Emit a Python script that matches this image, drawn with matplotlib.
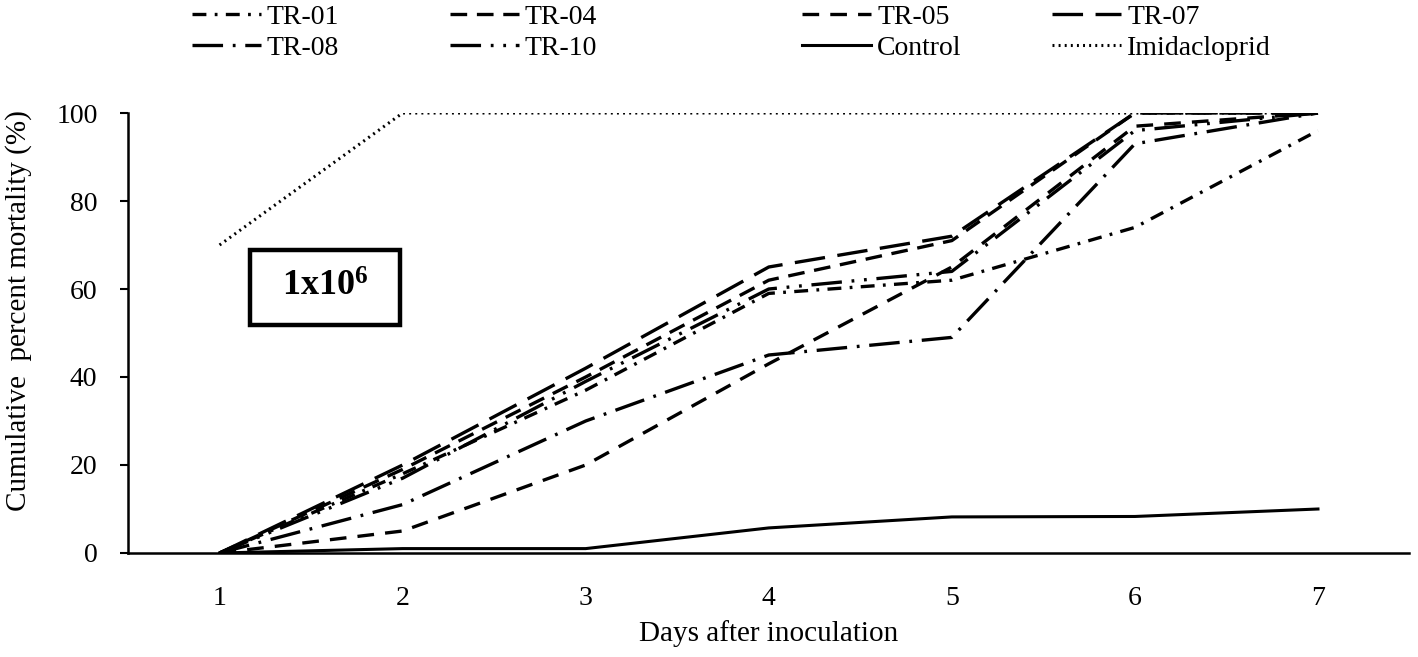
import matplotlib
matplotlib.use("Agg")
import matplotlib.pyplot as plt
from matplotlib.patches import Rectangle

plt.rcParams['font.family'] = ['Liberation Serif', 'DejaVu Serif']
plt.rcParams['mathtext.fontset'] = 'custom'
plt.rcParams['mathtext.rm'] = 'Liberation Serif'
plt.rcParams['mathtext.bf'] = 'Liberation Serif:bold'
plt.rcParams['lines.scale_dashes'] = False

days = [1, 2, 3, 4, 5, 6, 7]
tr01 = [0, 18, 37, 59, 62, 74, 96]
tr04 = [0, 19, 40, 62, 71, 100, 100]
tr05 = [0, 5, 20, 43, 65, 97, 100]
tr07 = [0, 20, 42, 65, 72, 100, 100]
tr08 = [0, 11, 30, 45, 49, 93, 100]
tr10 = [0, 17, 39, 60, 64, 96, 100]
control = [0, 1, 1, 5.7, 8.2, 8.3, 10]
imidacloprid = [70, 100, 100, 100, 100, 100, 100]

yticks = [0, 20, 40, 60, 80, 100]

fig = plt.figure(figsize=(14.18, 6.57), dpi=100)
ax = fig.add_axes([0.0903, 0.1583, 0.9037, 0.6697])

lw = 2.4
h01, = ax.plot(days, tr01, color='black', lw=lw, linestyle=(0, (10, 6, 2, 6)), label='TR-01')
h04, = ax.plot(days, tr04, color='black', lw=lw, linestyle=(0, (12, 7)), label='TR-04')
h05, = ax.plot(days, tr05, color='black', lw=lw, linestyle=(0, (12, 8)), label='TR-05')
h07, = ax.plot(days, tr07, color='black', lw=lw, linestyle=(0, (22, 9)), label='TR-07')
h08, = ax.plot(days, tr08, color='black', lw=lw, linestyle=(0, (22, 7, 2, 7)), label='TR-08')
h10, = ax.plot(days, tr10, color='black', lw=lw, linestyle=(0, (22, 7, 2, 7, 2, 7)), label='TR-10')
hc, = ax.plot(days, control, color='black', lw=2.2, linestyle='-', label='Control')
hi, = ax.plot(days, imidacloprid, color='black', lw=2.2, linestyle=(0, (1.4, 3.0)), label='Imidacloprid')

ax.set_xlim(0.5, 7.5)
ax.set_ylim(0, 100)
ax.set_xticks(days)
ax.set_xticklabels([str(d) for d in days])
ax.set_yticks(yticks)
ax.tick_params(axis='y', direction='out', length=6, width=1.5, labelsize=20, pad=16)
ax.tick_params(axis='x', length=0, labelsize=20, pad=24)
for s in ['top', 'right']:
    ax.spines[s].set_visible(False)
for s in ['left', 'bottom']:
    ax.spines[s].set_linewidth(1.8)
ax.set_xlabel('Days after inoculation', fontsize=21, labelpad=6)
ax.set_ylabel('Cumulative  percent mortality (%)', fontsize=21)
ax.yaxis.set_label_coords(-0.075, 0.55)

# annotation box
ax.add_patch(Rectangle((0.095, 0.518), 0.117, 0.171, transform=ax.transAxes,
                       fill=False, edgecolor='black', lw=3.2, clip_on=False))
ax.text(0.1535, 0.6035, r'$\mathbf{1x10^6}$', transform=ax.transAxes,
        ha='center', va='center', fontsize=26)

# legend columns
cols = [([h01, h08], 0.1354), ([h04, h10], 0.3173), ([h05, hc], 0.5656), ([h07, hi], 0.7419)]
for handles, x in cols:
    fig.legend(handles=handles, loc='upper left', bbox_to_anchor=(x, 0.993),
               frameon=False, fontsize=20, handlelength=2.5, handletextpad=0.2,
               labelspacing=0.2, borderpad=0, borderaxespad=0)

fig.savefig('out.png', dpi=100)
